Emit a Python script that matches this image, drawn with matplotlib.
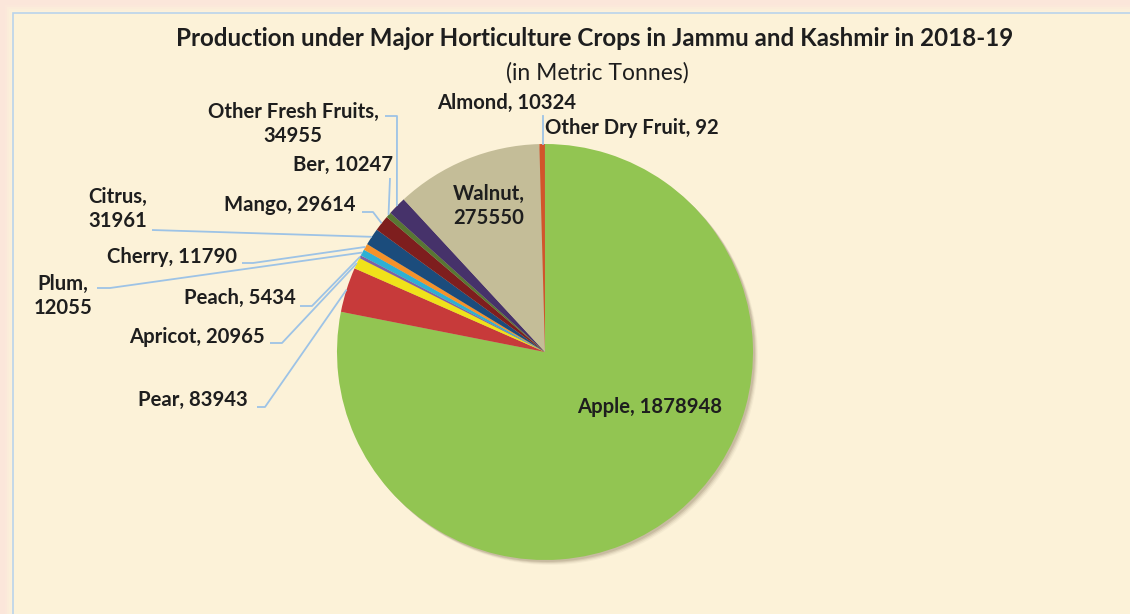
import numpy as np
import matplotlib
matplotlib.use("Agg")
import matplotlib.pyplot as plt
from matplotlib.patches import Circle, Rectangle

# ---- data ----
crops = ["Apple", "Pear", "Apricot", "Peach", "Plum", "Cherry", "Citrus",
         "Mango", "Ber", "Other Fresh Fruits", "Walnut", "Almond", "Other Dry Fruit"]
production = [1878948, 83943, 20965, 5434, 12055, 11790, 31961,
              29614, 10247, 34955, 275550, 10324, 92]
title = "Production under Major Horticulture Crops in Jammu and Kashmir in 2018-19"
subtitle = "(in Metric Tonnes)"

colors = ["#92C552", "#C73A3A", "#F0E21A", "#7E5FA6", "#2DB0D4", "#F5922A",
          "#1B4C7C", "#7E1E1E", "#587733", "#46326A", "#C4BD98", "#D2552A", "#4F81BD"]

W, H = 1130, 614
fig = plt.figure(figsize=(W / 100, H / 100), dpi=100)
fig.patch.set_facecolor("#FBE6DA")
ax = fig.add_axes([0, 0, 1, 1])
ax.set_xlim(0, W)
ax.set_ylim(0, H)
ax.axis("off")

def P(y):
    return H - y

# background panel with soft glow
for i, a in enumerate([0.25, 0.45, 0.7, 1.0]):
    ax.add_patch(Rectangle((13 - 8 + i * 2, -10), W, P(13 - 8 + i * 2) + 10,
                           facecolor="#FCF1DA", edgecolor="none", alpha=a, zorder=0))
ax.add_patch(Rectangle((13, -10), W, P(13) + 10, facecolor="#FCF2D8",
                       edgecolor="#B9D3EC", lw=1.2, zorder=0.5))

FONT = "Lato"
cx, cy, R = 545, P(352), 208

# shadow
for dx, al in [(5, 0.05), (4, 0.08), (3, 0.12), (2, 0.15)]:
    ax.add_patch(Circle((cx + dx, cy - dx), R, facecolor="#6B5A40", edgecolor="none",
                        alpha=al, zorder=1))

wedges, _ = ax.pie(production, colors=colors, startangle=90, counterclock=False,
                   center=(cx, cy), radius=R, frame=True,
                   wedgeprops=dict(linewidth=0, antialiased=True))
for w in wedges:
    w.set_zorder(2)
ax.set_xlim(0, W)
ax.set_ylim(0, H)
ax.axis("off")

def rim(i, extra=0):
    w = wedges[i]
    t = np.deg2rad((w.theta1 + w.theta2) / 2)
    return cx + (R + extra) * np.cos(t), cy + (R + extra) * np.sin(t)

lc = "#9DC3E6"
def leader(i, pts, extra=0):
    xs = [p[0] for p in pts]
    ys = [P(p[1]) for p in pts]
    rx, ry = rim(i, extra)
    xs.append(rx); ys.append(ry)
    ax.plot(xs, ys, color=lc, lw=1.3, zorder=3, solid_capstyle="butt")

fs = 14.6
tk = dict(fontfamily=FONT, fontweight="bold", fontsize=fs, color="#1E1E1E", zorder=5)

ax.text(595, P(38), title, ha="center", va="center", fontfamily=FONT,
        fontweight="bold", fontsize=17.4, color="#1E1E1E")
ax.text(597, P(73), subtitle, ha="center", va="center", fontfamily=FONT,
        fontsize=16.5, color="#1E1E1E")

def lab(i):
    return f"{crops[i]}, {production[i]}"

# inside labels
ax.text(650, P(407), lab(0), ha="center", va="center", **tk)
ax.text(489, P(206), "Walnut,\n275550", ha="center", va="center", linespacing=1.3, **tk)

# outside labels
ax.text(293, P(124), "Other Fresh Fruits,\n34955", ha="center", va="center", linespacing=1.3, **tk)
leader(9, [(385, 116), (397, 116)])
ax.text(393, P(165), lab(8), ha="right", va="center", **tk)
leader(8, [(390, 178)])
ax.text(356, P(205), lab(7), ha="right", va="center", **tk)
leader(7, [(362, 212), (373, 212)])
ax.text(118, P(209), "Citrus,\n31961", ha="center", va="center", linespacing=1.3, **tk)
leader(6, [(152, 230)])
ax.text(237, P(257), lab(5), ha="right", va="center", **tk)
leader(5, [(242, 263), (253, 263)])
ax.text(63, P(296), "Plum,\n12055", ha="center", va="center", linespacing=1.3, **tk)
leader(4, [(97, 288), (110, 288)])
ax.text(296, P(298), lab(3), ha="right", va="center", **tk)
leader(3, [(300, 306), (312, 306)])
ax.text(265, P(337), lab(2), ha="right", va="center", **tk)
leader(2, [(270, 343), (282, 343)])
ax.text(248, P(400), lab(1), ha="right", va="center", **tk)
leader(1, [(257, 407), (265, 407)])
ax.text(507, P(103), lab(11), ha="center", va="center", **tk)
ax.text(545, P(128), lab(12), ha="left", va="center", **tk)
ax.plot([543, 543], [P(116), P(144)], color=lc, lw=1.3, zorder=3)

fig.savefig("out.png", dpi=100, facecolor=fig.get_facecolor())
